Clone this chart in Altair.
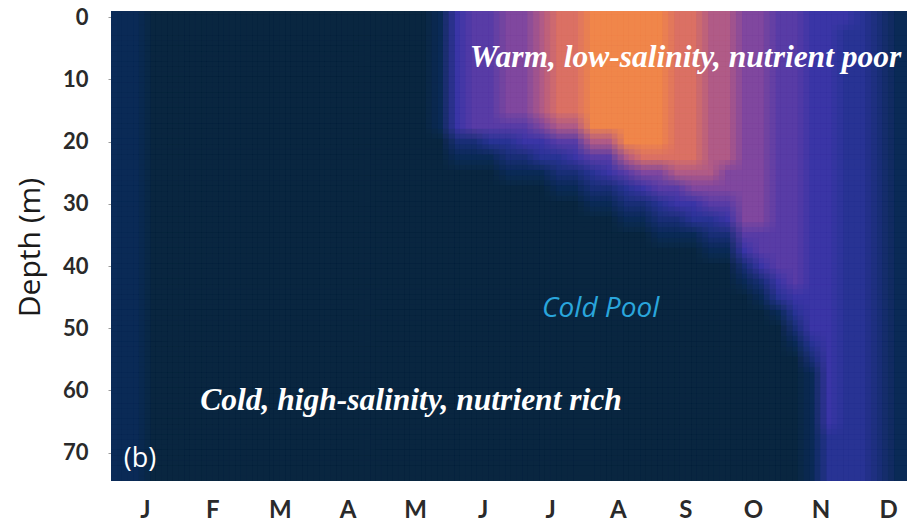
import altair as alt
import pandas as pd

# ---- data ----
MONTHS = ["J", "F", "M", "A", "M", "J", "J", "A", "S", "O", "N", "D"]
MONTH_CENTERS = [0.5 + i for i in range(12)]
DEPTH_TICKS = [0, 10, 20, 30, 40, 50, 60, 70]

COL_STEP = 0.25   # months per column
ROW_STEP = 2.5    # metres per row

# one depth profile per quarter-month column (top -> bottom, 31 rows, 0..75 m)
# digits are a relative warmth index: 0 = cold navy ... 9 = warm orange
PROFILES = [
    "1111111111111111111111111111111",  # Jan
    "1111111111111111111111111111111",
    "0000000000000000000000000000000",
    "0000000000000000000000000000000",
    "0000000000000000000000000000000",  # Feb
    "0000000000000000000000000000000",
    "0000000000000000000000000000000",
    "0000000000000000000000000000000",
    "0000000000000000000000000000000",  # Mar
    "0000000000000000000000000000000",
    "0000000000000000000000000000000",
    "0000000000000000000000000000000",
    "0000000000000000000000000000000",  # Apr
    "0000000000000000000000000000000",
    "0000000000000000000000000000000",
    "0000000000000000000000000000000",
    "0000000000000000000000000000000",  # May
    "0000000000000000000000000000000",
    "0000000000000000000000000000000",
    "1111111100000000000000000000000",
    "4444444421000000000000000000000",  # Jun
    "5555555521000000000000000000000",
    "5555555531000000000000000000000",
    "6666666532100000000000000000000",
    "6666666542100000000000000000000",  # Jul
    "7777777643100000000000000000000",
    "8888888753210000000000000000000",
    "8888888754210000000000000000000",
    "9999999975321000000000000000000",  # Aug
    "9999999975421000000000000000000",
    "9999999997532100000000000000000",
    "9999999998642100000000000000000",
    "9999999998653210000000000000000",  # Sep
    "8888888888754210000000000000000",
    "8888888888764310000000000000000",
    "7777777777765321000000000000000",
    "7777777777665421000000000000000",  # Oct
    "6666666666666654210000000000000",
    "6666666666666655421000000000000",
    "5555555555555555543100000000000",
    "5555555555555555554321000000000",  # Nov
    "4444444444444444444443211111111",
    "4444444444444444444444444443333",
    "4333333333333333333333333333333",
    "3333333333333333333333333333333",  # Dec
    "2222222222222222222222222222222",
    "1111111111111111111111111111111",
    "1111111111111111111111111111111",
]

COLOR_STOPS = [0, 1, 2, 3, 4, 5, 6, 7, 8, 9]
COLOR_RANGE = ["#0b2742", "#0d2c58", "#1b3078", "#2a3596", "#3c37a8",
               "#5a3ea8", "#8049a0", "#b25c88", "#dc7266", "#f2864c"]

LABELS = [
    {"text": "Warm, low-salinity, nutrient poor", "m": 5.31, "d": 8.0,
     "font": "Liberation Serif", "size": 31.5, "style": "italic", "weight": "bold",
     "color": "#ffffff"},
    {"text": "Cold, high-salinity, nutrient rich", "m": 1.32, "d": 63.1,
     "font": "Liberation Serif", "size": 31.5, "style": "italic", "weight": "bold",
     "color": "#ffffff"},
    {"text": "Cold Pool", "m": 6.38, "d": 48.2,
     "font": "Open Sans", "size": 28, "style": "italic", "weight": "normal",
     "color": "#2aa6dc"},
    {"text": "(b)", "m": 0.19, "d": 72.3,
     "font": "Open Sans", "size": 27, "style": "normal", "weight": "normal",
     "color": "#ffffff"},
]

# ---- build table ----
rows = []
for j, prof in enumerate(PROFILES):
    for k, ch in enumerate(prof):
        rows.append({
            "m0": j * COL_STEP, "m1": (j + 1) * COL_STEP,
            "d0": k * ROW_STEP - ROW_STEP / 2, "d1": k * ROW_STEP + ROW_STEP / 2,
            "v": int(ch),
        })
grid = pd.DataFrame(rows)

X_DOMAIN = [0, 11.78]
Y_DOMAIN = [-1, 74.55]

xscale = alt.Scale(domain=X_DOMAIN, nice=False, zero=False)
yscale = alt.Scale(domain=Y_DOMAIN, reverse=True, nice=False, zero=False)
cscale = alt.Scale(domain=COLOR_STOPS, range=COLOR_RANGE)

month_lookup = "[" + ",".join(f"'{l}'" for l in MONTHS) + "]"

x_axis = alt.Axis(values=MONTH_CENTERS, title=None, ticks=False, domain=False,
                  grid=False, labelExpr=f"{month_lookup}[floor(datum.value)]",
                  labelFont="Lato", labelFontWeight="bold", labelFontSize=24,
                  labelColor="#2a2a2a", labelPadding=29, labelBaseline="middle")
y_axis = alt.Axis(values=DEPTH_TICKS, title="Depth (m)", grid=False, domain=False,
                  tickSize=3, tickColor="#9a9a9a", labelPadding=20,
                  labelFont="Lato", labelFontWeight="bold", labelFontSize=22,
                  labelColor="#2a2a2a", titleFont="Open Sans", titleFontWeight="normal",
                  titleFontSize=30, titleColor="#1a1a1a",
                  titleX=-81, titleY=236, titleAngle=-90,
                  titleAlign="center", titleBaseline="middle")

# smoothing: the same cells drawn several times, slightly shifted, averaged by opacity
OFFSETS = [(0, 0), (-6, 0), (6, 0), (0, -5), (0, 5), (-6, -5), (6, -5), (-6, 5), (6, 5)]
heat_layers = []
for n, (dx, dy) in enumerate(OFFSETS, start=1):
    mark_kw = dict(clip=True, opacity=1.0 / n, xOffset=dx, x2Offset=dx,
                   yOffset=dy, y2Offset=dy)
    enc = dict(
        x=alt.X("m0:Q", scale=xscale, axis=x_axis),
        x2="m1:Q",
        y=alt.Y("d0:Q", scale=yscale, axis=y_axis),
        y2="d1:Q",
        color=alt.Color("v:Q", scale=cscale, legend=None),
    )
    if n == 1:
        mark_kw.update(strokeWidth=1)
        enc["stroke"] = alt.Stroke("v:Q", scale=cscale, legend=None)
    heat_layers.append(alt.Chart(grid).mark_rect(**mark_kw).encode(**enc))

lab_df = pd.DataFrame(LABELS)
text_layers = []
for i, lab in enumerate(LABELS):
    t = alt.Chart(lab_df.iloc[[i]]).mark_text(
        font=lab["font"], fontSize=lab["size"], fontStyle=lab["style"],
        fontWeight=lab["weight"], color=lab["color"], align="left",
        baseline="alphabetic",
    ).encode(
        x=alt.X("m:Q", scale=xscale, axis=x_axis),
        y=alt.Y("d:Q", scale=yscale, axis=y_axis),
        text="text:N",
    )
    text_layers.append(t)

chart = alt.layer(*heat_layers, *text_layers).properties(
    width=796, height=470,
    autosize=alt.AutoSizeParams(type="none"),
    padding={"left": 103, "top": 3, "right": 0, "bottom": 45},
).configure_view(stroke=None)

chart.save("out.html", embed_options={"renderer": "svg", "actions": False})
